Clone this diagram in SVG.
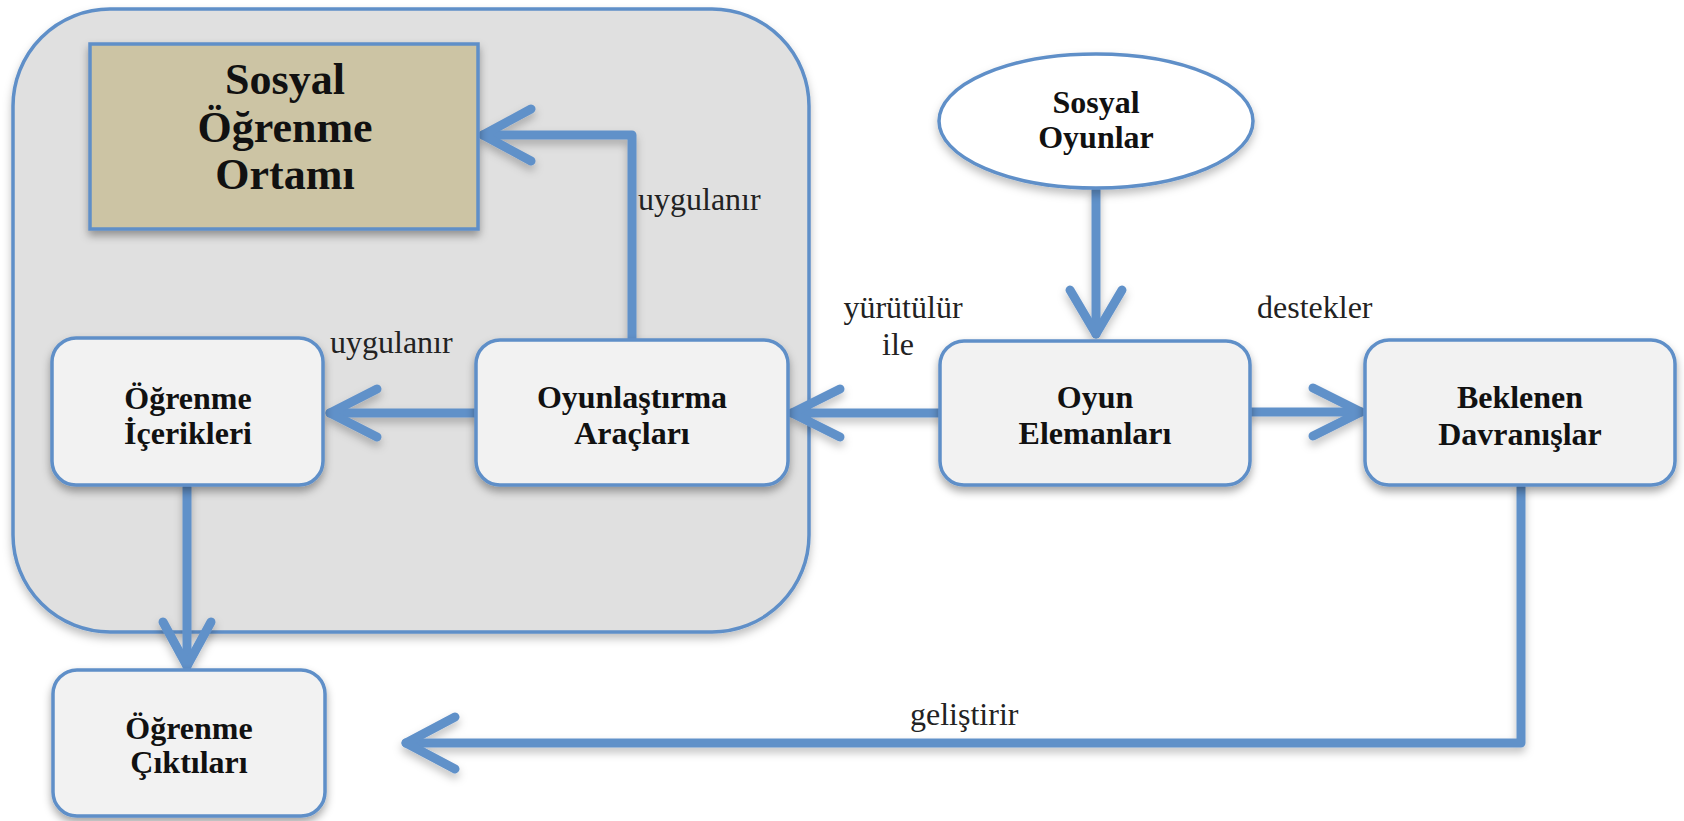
<svg xmlns="http://www.w3.org/2000/svg" width="1684" height="821" viewBox="0 0 1684 821">
<defs>
<filter id="sh" x="-10%" y="-10%" width="120%" height="130%">
<feDropShadow dx="0" dy="5" stdDeviation="4" flood-color="#000" flood-opacity="0.35"/>
</filter>
<filter id="shl" x="-10%" y="-10%" width="120%" height="130%">
<feDropShadow dx="0" dy="5" stdDeviation="4" flood-color="#000" flood-opacity="0.25"/>
</filter>
</defs>
<style>
.box{fill:#f2f2f2;stroke:#5f8fc8;stroke-width:3.5}
.t{font-family:"Liberation Serif","Times New Roman",serif;font-weight:bold;font-size:32px;fill:#111;text-anchor:middle}
.big{font-size:44px}
.lbl{font-family:"Liberation Serif","Times New Roman",serif;font-size:32px;fill:#222}
.c{fill:none;stroke:#6191c9;stroke-width:9;stroke-linecap:round;stroke-linejoin:round}
</style>
<rect width="1684" height="821" fill="#fff"/>
<g id="container">
<rect x="13" y="9" width="796" height="623" rx="97" ry="97" fill="#e0e0e0" stroke="#5f8fc8" stroke-width="3.5" filter="url(#shl)"/>
</g>
<g id="connectors" filter="url(#shl)">
<path class="c" d="M632 340 V135 H483"/>
<path class="c" d="M531 109 L483 135 L531 161"/>
<path class="c" d="M476 413 H330"/>
<path class="c" d="M377 389 L330 413 L377 437"/>
<path class="c" d="M940 413 H792"/>
<path class="c" d="M840 389 L792 413 L840 437"/>
<path class="c" d="M1250 412 H1361"/>
<path class="c" d="M1313 388 L1361 412 L1313 436"/>
<path class="c" d="M1096 190 V334"/>
<path class="c" d="M1070 290 L1096 334 L1122 290"/>
<path class="c" d="M187 487 V666"/>
<path class="c" d="M163 622 L187 666 L211 622"/>
<path class="c" d="M1521 487 V743 H406"/>
<path class="c" d="M455 717 L406 743 L455 769"/>
</g>
<g id="labels">
<text class="lbl" x="638" y="210">uygulanır</text>
<text class="lbl" x="330" y="353">uygulanır</text>
<text class="lbl" x="903" y="318" text-anchor="middle">yürütülür</text>
<text class="lbl" x="898" y="355" text-anchor="middle">ile</text>
<text class="lbl" x="1257" y="318">destekler</text>
<text class="lbl" x="910" y="725">geliştirir</text>
</g>
<g id="sosyal-ogrenme-ortami">
<rect x="90" y="44" width="388" height="185" fill="#ccc4a4" stroke="#5f8fc8" stroke-width="3.5" filter="url(#sh)"/>
<text class="t big" x="285" y="94">Sosyal</text>
<text class="t big" x="285" y="142">Öğrenme</text>
<text class="t big" x="285" y="189">Ortamı</text>
</g>
<g id="ogrenme-icerikleri">
<rect class="box" x="52" y="338" width="271" height="147" rx="24" filter="url(#sh)"/>
<text class="t" x="188" y="409">Öğrenme</text>
<text class="t" x="188" y="444">İçerikleri</text>
</g>
<g id="oyunlastirma-araclari">
<rect class="box" x="476" y="340" width="312" height="145" rx="24" filter="url(#sh)"/>
<text class="t" x="632" y="408">Oyunlaştırma</text>
<text class="t" x="632" y="444">Araçları</text>
</g>
<g id="sosyal-oyunlar">
<ellipse cx="1096" cy="121" rx="157" ry="67" fill="#fff" stroke="#5f8fc8" stroke-width="3.5" filter="url(#shl)"/>
<text class="t" x="1096" y="113">Sosyal</text>
<text class="t" x="1096" y="148">Oyunlar</text>
</g>
<g id="oyun-elemanlari">
<rect class="box" x="940" y="341" width="310" height="144" rx="24" filter="url(#sh)"/>
<text class="t" x="1095" y="408">Oyun</text>
<text class="t" x="1095" y="444">Elemanları</text>
</g>
<g id="beklenen-davranislar">
<rect class="box" x="1365" y="340" width="310" height="145" rx="24" filter="url(#sh)"/>
<text class="t" x="1520" y="408">Beklenen</text>
<text class="t" x="1520" y="445">Davranışlar</text>
</g>
<g id="ogrenme-ciktilari">
<rect class="box" x="53" y="670" width="272" height="146" rx="24" filter="url(#sh)"/>
<text class="t" x="189" y="739">Öğrenme</text>
<text class="t" x="189" y="773">Çıktıları</text>
</g>
</svg>
